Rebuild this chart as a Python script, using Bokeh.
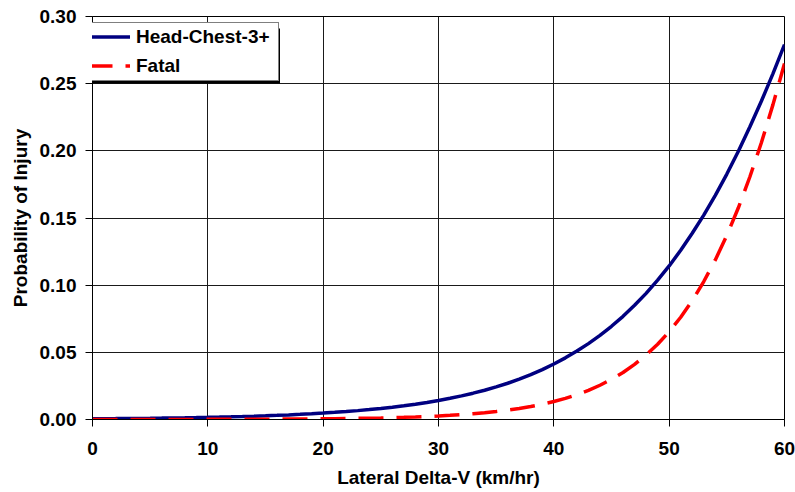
from bokeh.plotting import figure
from bokeh.models import Legend, LegendItem, FixedTicker, NumeralTickFormatter, BoxAnnotation, Range1d
from bokeh.embed import file_html
from bokeh.resources import INLINE

# ---- data ----
delta_v = list(range(0, 61))
head_chest = [0.00053, 0.00059, 0.00066, 0.00074, 0.00083, 0.00092, 0.00103, 0.00115,
              0.00128, 0.00143, 0.00160, 0.00178, 0.00199, 0.00221, 0.00248, 0.00276,
              0.00308, 0.00343, 0.00383, 0.00427, 0.00477, 0.00532, 0.00590, 0.00661,
              0.00737, 0.00822, 0.00917, 0.0102, 0.0114, 0.0127, 0.0142, 0.0158,
              0.0176, 0.0196, 0.0218, 0.0243, 0.0270, 0.0301, 0.0334, 0.0371,
              0.0413, 0.0459, 0.0510, 0.0565, 0.0626, 0.0694, 0.0768, 0.0850,
              0.0939, 0.1037, 0.1143, 0.1260, 0.1386, 0.1521, 0.1669, 0.1827,
              0.1997, 0.2179, 0.2371, 0.2575, 0.2791]
fatal = [0.000019, 0.000023, 0.000027, 0.000031, 0.000037, 0.000044, 0.000052, 0.000061,
         0.000071, 0.000084, 0.000099, 0.000117, 0.000137, 0.000162, 0.00019, 0.000225,
         0.00026, 0.000312, 0.00036, 0.000433, 0.00051, 0.000601, 0.00071, 0.000835,
         0.00098, 0.00116, 0.00136, 0.00161, 0.00189, 0.00223, 0.00262, 0.00309,
         0.00364, 0.00428, 0.00504, 0.00594, 0.00699, 0.00822, 0.00968, 0.0114,
         0.0134, 0.0157, 0.0185, 0.0217, 0.0255, 0.0299, 0.0350, 0.0410,
         0.0480, 0.0560, 0.0654, 0.0761, 0.0885, 0.1027, 0.1188, 0.1370,
         0.1576, 0.1807, 0.2062, 0.2344, 0.2650]
series_names = ["Head-Chest-3+", "Fatal"]
x_ticks = [0, 10, 20, 30, 40, 50, 60]
y_ticks = [0.0, 0.05, 0.10, 0.15, 0.20, 0.25, 0.30]
x_title = "Lateral Delta-V (km/hr)"
y_title = "Probability of Injury"

FONT = "Liberation Sans"
FS = "19px"

W, H = 795, 492
FL, FR, FT, FB = 92, 784, 16, 419   # frame edges in canvas pixels
p = figure(width=W, height=H, x_range=Range1d(0, 60), y_range=Range1d(0, 0.30),
           output_backend="svg", toolbar_location=None,
           min_border_left=FL, min_border_right=W - FR,
           min_border_top=FT, min_border_bottom=H - FB)
p.background_fill_color = "white"
p.border_fill_color = "white"
p.outline_line_color = "black"
p.outline_line_width = 1

r1 = p.line(delta_v, head_chest, line_color="#000080", line_width=3.5)
r2 = p.line(delta_v, fatal, line_color="#FF0000", line_width=3.5, line_dash="25 13")

for ax in (p.xaxis[0], p.yaxis[0]):
    ax.axis_line_color = "black"
    ax.major_tick_line_color = "black"
    ax.major_tick_out = 7
    ax.major_tick_in = 0
    ax.minor_tick_line_color = None
    ax.major_label_text_font = FONT
    ax.major_label_text_font_style = "bold"
    ax.major_label_text_font_size = FS
    ax.major_label_text_color = "black"
    ax.axis_label_text_font = FONT
    ax.axis_label_text_font_style = "bold"
    ax.axis_label_text_font_size = FS
    ax.axis_label_text_color = "black"

p.xaxis.ticker = FixedTicker(ticks=x_ticks)
p.yaxis.ticker = FixedTicker(ticks=y_ticks)
p.yaxis.formatter = NumeralTickFormatter(format="0.00")
p.xaxis.axis_label = x_title
p.yaxis.axis_label = y_title
p.xaxis.major_label_standoff = 15
p.xaxis.axis_label_standoff = 9
p.yaxis.major_label_standoff = 9
p.yaxis.axis_label_standoff = 6

p.xgrid.grid_line_color = "#1a1a1a"
p.ygrid.grid_line_color = "#1a1a1a"
p.xgrid.grid_line_width = 1
p.ygrid.grid_line_width = 1

# legend with drop shadow
leg_left, leg_top, leg_w, leg_h = 83, 25.5, 194, 55
pad, gw, gh, stand, sp = 3, 43, 21, 6, 7
shadow = BoxAnnotation(left=leg_left + 2.5, right=leg_left + leg_w + 2.5,
                       top=leg_top + 2.5, bottom=leg_top + leg_h + 2.5,
                       left_units="canvas", right_units="canvas",
                       top_units="canvas", bottom_units="canvas",
                       fill_color="black", fill_alpha=1.0, line_color=None)
p.add_layout(shadow)

legend = Legend(items=[LegendItem(label=series_names[0], renderers=[r1]),
                       LegendItem(label=series_names[1], renderers=[r2])],
                location=(leg_left - FL, FB - leg_top - leg_h),
                border_line_color="black", border_line_width=1,
                background_fill_color="white", background_fill_alpha=1.0,
                label_text_font=FONT, label_text_font_style="bold",
                label_text_font_size=FS, label_text_color="black",
                glyph_width=gw, glyph_height=gh, label_height=gh,
                label_width=leg_w - 2 * pad - gw - stand,
                label_standoff=stand, padding=pad, spacing=sp, margin=0)
p.add_layout(legend, "center")

open("out.html", "w").write(file_html(p, INLINE))
